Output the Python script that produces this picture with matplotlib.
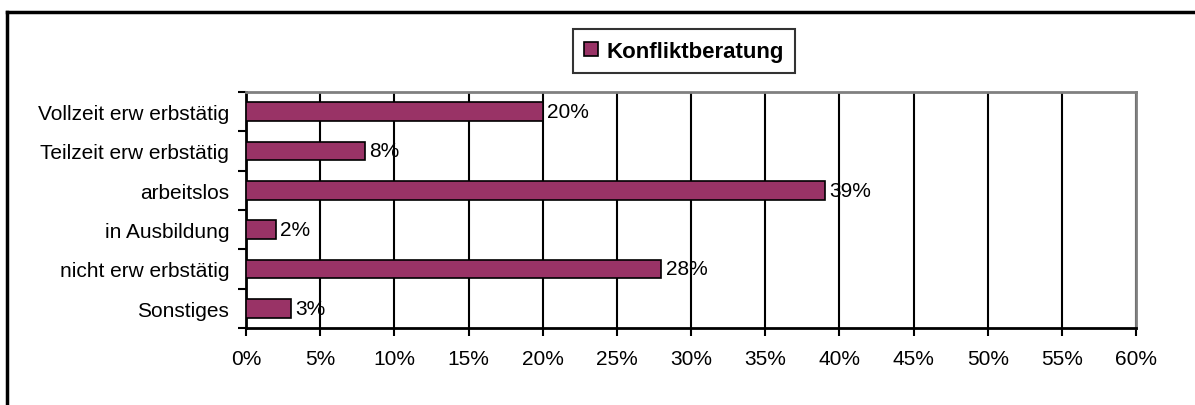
import matplotlib.pyplot as plt
from matplotlib.lines import Line2D
from matplotlib.patches import Patch

plt.rcParams['font.family'] = ['Liberation Sans', 'DejaVu Sans']

# Data
categories = ['Vollzeit erw erbstätig', 'Teilzeit erw erbstätig', 'arbeitslos',
              'in Ausbildung', 'nicht erw erbstätig', 'Sonstiges']
values = [20, 8, 39, 2, 28, 3]
series_name = 'Konfliktberatung'
xticks = list(range(0, 61, 5))

bar_color = '#993366'
fs = 15

fig = plt.figure(figsize=(11.95, 4.06), dpi=100)
ax = fig.add_axes([246 / 1195, 1 - 329 / 406, (1136 - 246) / 1195, (329 - 93) / 406])

ypos = list(range(len(categories)))
ax.barh(ypos, values, height=0.47, color=bar_color, edgecolor='black',
        linewidth=1.2, zorder=3)
for y, v in zip(ypos, values):
    ax.text(v + 0.3, y, f'{v}%', va='center', ha='left', fontsize=fs, zorder=4)

ax.set_xlim(0, 60)
ax.set_ylim(len(categories) - 0.5, -0.5)
ax.set_xticks(xticks)
ax.set_xticklabels([f'{t}%' for t in xticks], fontsize=fs)
ax.set_yticks(ypos)
ax.set_yticklabels(categories, fontsize=fs)
ax.tick_params(axis='y', length=0, pad=12)
ax.set_yticks([y + 0.5 for y in range(-1, len(categories))], minor=True)
ax.tick_params(axis='y', which='minor', length=6, width=1.5, direction='out')
ax.tick_params(axis='x', length=6, width=1.5, direction='out', pad=9)

ax.grid(axis='x', color='black', linewidth=1.5, zorder=1)
for s in ['left', 'bottom']:
    ax.spines[s].set_color('black')
    ax.spines[s].set_linewidth(2)
for s in ['top', 'right']:
    ax.spines[s].set_color('#808080')
    ax.spines[s].set_linewidth(2)

handle = Patch(facecolor=bar_color, edgecolor='black', linewidth=1.2)
leg = fig.legend([handle], [series_name], loc='center',
                 bbox_to_anchor=(684 / 1195, 1 - 52 / 406),
                 prop={'weight': 'bold', 'size': 16}, frameon=True,
                 fancybox=False, edgecolor='black', handlelength=0.6,
                 handleheight=0.6, handletextpad=0.4, borderpad=0.5)
leg.get_frame().set_linewidth(1.5)

# outer chart frame (left and top edges visible)
fig.add_artist(Line2D([7 / 1195, 7 / 1195], [0, 1 - 13 / 406], color='black',
                      linewidth=2.5, transform=fig.transFigure))
fig.add_artist(Line2D([7 / 1195, 1], [1 - 13 / 406, 1 - 13 / 406], color='black',
                      linewidth=2.5, transform=fig.transFigure))

fig.savefig('out.png', dpi=100)
